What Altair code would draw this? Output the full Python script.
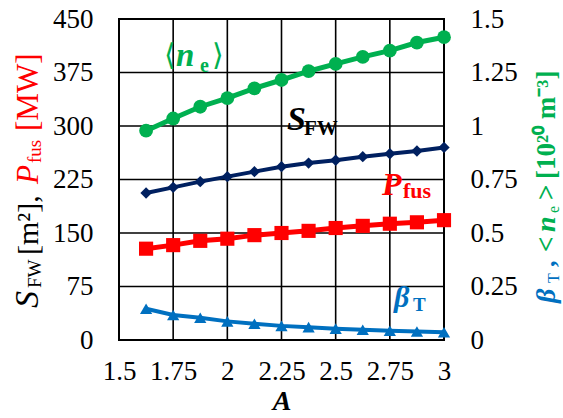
import altair as alt
import pandas as pd

# ---------------- data ----------------
A = [1.625, 1.75, 1.875, 2.0, 2.125, 2.25, 2.375, 2.5, 2.625, 2.75, 2.875, 3.0]
S_FW = [206, 214, 222, 229, 236, 243, 248, 252, 257, 261, 265, 270]
P_FUS = [128, 133, 139, 142, 147, 150, 153, 157, 160, 163, 165, 168]
N_E = [0.978, 1.035, 1.09, 1.13, 1.176, 1.215, 1.256, 1.29, 1.323, 1.352, 1.39, 1.415]
BETA_T = [0.146, 0.117, 0.104, 0.087, 0.076, 0.066, 0.06, 0.053, 0.048, 0.043, 0.04, 0.036]

X_TICKS = [1.5, 1.75, 2, 2.25, 2.5, 2.75, 3]
LEFT_TICKS = [0, 75, 150, 225, 300, 375, 450]
RIGHT_TICKS = [0, 0.25, 0.5, 0.75, 1, 1.25, 1.5]

df = pd.DataFrame({
    "A": A * 4,
    "value": S_FW + P_FUS + N_E + BETA_T,
    "series": ["S_FW"] * len(A) + ["P_fus"] * len(A) + ["n_e"] * len(A) + ["beta_T"] * len(A),
})
xgrid_df = pd.DataFrame({"A": X_TICKS})
ygrid_df = pd.DataFrame({"value": LEFT_TICKS})

W, H = 325, 321
FONT = "Liberation Serif"
GREEN = "#00B050"
NAVY = "#002060"
RED = "#FF0000"
BLUE = "#0070C0"

LABEL_EXPR = "'' + datum.value"
LABEL_STYLE = dict(labelFont=FONT, labelFontSize=27, labelColor="black")

x_scale = alt.Scale(domain=[1.5, 3], nice=False, zero=False)
x_enc = alt.X(
    "A:Q",
    scale=x_scale,
    axis=alt.Axis(values=X_TICKS, labelExpr=LABEL_EXPR, title="A", grid=False, ticks=False,
                  domain=False, labelPadding=18, titlePadding=3, labelFlush=False,
                  labelOverlap=False,
                  titleFont=FONT, titleFontSize=28, titleFontStyle="italic",
                  titleFontWeight="bold", titleColor="black", **LABEL_STYLE),
)

y_left_scale = alt.Scale(domain=[0, 450], nice=False)
y_left = alt.Y(
    "value:Q",
    scale=y_left_scale,
    axis=alt.Axis(values=LEFT_TICKS, title=None, grid=False, ticks=False, domain=False,
                  labelPadding=26, labelFlush=False, labelOverlap=False, **LABEL_STYLE),
)
y_right = alt.Y(
    "value:Q",
    scale=alt.Scale(domain=[0, 1.5], nice=False),
    axis=alt.Axis(values=RIGHT_TICKS, labelExpr=LABEL_EXPR, title=None, grid=False,
                  ticks=False, domain=False, orient="right", labelPadding=26,
                  labelFlush=False, labelOverlap=False, **LABEL_STYLE),
)


def series(name, color, shape, size, sw, y_enc):
    base = alt.Chart(df).transform_filter(alt.datum.series == name)
    line = base.mark_line(color=color, strokeWidth=sw).encode(x=x_enc, y=y_enc)
    pts = base.mark_point(shape=shape, size=size, filled=True, color=color,
                          opacity=1).encode(x=x_enc, y=y_enc)
    return [line, pts]


one = pd.DataFrame({"k": [0]})


def txt(s, x, y, size, color, style="normal", weight="normal", angle=0,
        align="left", baseline="alphabetic"):
    return alt.Chart(one).mark_text(
        text=s, font=FONT, fontSize=size, fontStyle=style, fontWeight=weight,
        color=color, angle=angle, align=align, baseline=baseline,
    ).encode(x=alt.value(x), y=alt.value(y))


# gridlines drawn from the tick arrays, spanning the whole plot area
xgrid = alt.Chart(xgrid_df).mark_rule(color="black", strokeWidth=1.6).encode(
    x=x_enc, y=alt.value(0), y2=alt.value(H))
ygrid = alt.Chart(ygrid_df).mark_rule(color="black", strokeWidth=1.6).encode(
    y=y_left, x=alt.value(0), x2=alt.value(W))

left = alt.layer(
    xgrid,
    ygrid,
    *series("S_FW", NAVY, "diamond", 130, 4, y_left),
    *series("P_fus", RED, "square", 200, 5, y_left),
)
right = alt.layer(
    *series("n_e", GREEN, "circle", 190, 5, y_right),
    *series("beta_T", BLUE, "triangle-up", 150, 4, y_right),
)

annotations = alt.layer(
    # <n_e>
    txt("⟨", 45, 46, 30, GREEN),
    txt("n", 57, 47, 33, GREEN, "italic", "bold"),
    txt("e", 81, 53, 20, GREEN, weight="bold"),
    txt("⟩", 93, 46, 30, GREEN),
    # S_FW
    txt("S", 168, 111, 34, "black", "italic", "bold"),
    txt("FW", 185, 116, 21, "black", weight="bold"),
    # P_fus
    txt("P", 263, 176, 32, RED, "italic", "bold"),
    txt("fus", 284, 179, 22, RED, weight="bold"),
    # beta_T
    txt("β", 275, 288, 30, BLUE, "italic", "bold"),
    txt("T", 294, 292, 19, BLUE, weight="bold"),
    # left axis title
    txt("S", -81, 289, 34, "black", "italic", angle=270),
    txt("FW", -78, 269, 19, "black", angle=270),
    txt("[m²],", -81, 236, 30, "black", angle=270),
    txt("P", -81, 165, 31, RED, "italic", angle=270),
    txt("fus", -78, 144, 19, RED, angle=270),
    txt("[MW]", -81, 112, 31, RED, angle=270),
    # right axis title
    txt("β", 436, 284, 28, BLUE, "italic", "bold", angle=270),
    txt("T", 440, 264, 16, BLUE, angle=270),
    txt(",", 436, 248, 26, BLUE, weight="bold", angle=270),
    txt("<", 436, 233, 27, GREEN, weight="bold", angle=270),
    txt("n", 436, 213, 28, GREEN, "italic", "bold", angle=270),
    txt("e", 440, 194, 16, GREEN, angle=270),
    txt(">", 436, 181, 27, GREEN, weight="bold", angle=270),
    txt("[10²⁰ m⁻³]", 436, 160, 27, GREEN, weight="bold", angle=270),
)

chart = alt.layer(left, right, annotations).resolve_scale(y="independent").properties(
    width=W,
    height=H,
    autosize=alt.AutoSizeParams(type="none"),
    padding={"left": 119, "top": 19, "right": 119, "bottom": 78},
).configure_view(
    stroke="black", strokeWidth=2,
)

chart.save("out.html", embed_options={"renderer": "svg", "actions": False})
